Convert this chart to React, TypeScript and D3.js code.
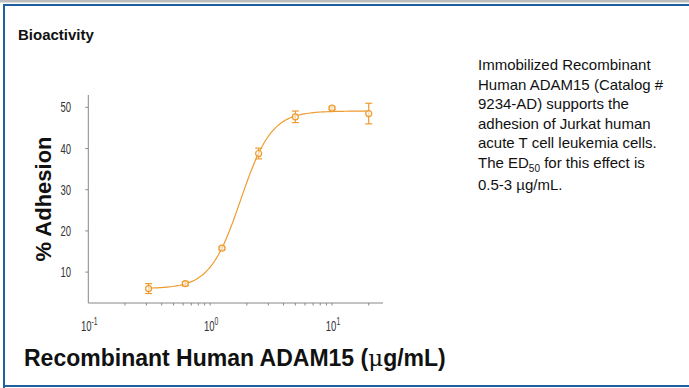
import React, { useEffect, useRef } from 'react';
import * as d3 from 'd3';

// concentrations (ug/mL) and measured adhesion
const conc = [0.3125, 0.625, 1.25, 2.5, 5, 10, 20];
const adhesion = [6.0, 7.2, 15.8, 38.8, 47.7, 49.8, 48.5];
const errs = [1.2, 0.5, 0.3, 1.3, 1.4, 0.3, 2.5];
// 4PL fit
const fitBottom = 6.0, fitTop = 49.1, fitEC50 = 1.78, fitHill = 3.44;
const yTicks = [10, 20, 30, 40, 50];
const xDecades = [-1, 0, 1];
const noteLines = [
  'Immobilized Recombinant',
  'Human ADAM15 (Catalog #',
  '9234-AD) supports the',
  'adhesion of Jurkat human',
  'acute T cell leukemia cells.',
];

const ORANGE = '#EE9B2F';
const SANS = '"Liberation Sans", Arial, sans-serif';

export default function App() {
  const ref = useRef<SVGSVGElement>(null);

  useEffect(() => {
    const svg = d3.select(ref.current);
    svg.selectAll('*').remove();
    const W = 689, H = 388;

    svg.append('rect').attr('width', W).attr('height', H).attr('fill', '#fff');
    // frame
    svg.append('rect').attr('x', 0).attr('y', 0).attr('width', W).attr('height', 2.5).attr('fill', '#bdbdbd');
    svg.append('rect').attr('x', 3).attr('y', 4).attr('width', W - 3).attr('height', 2).attr('fill', '#1f5fa0');
    svg.append('rect').attr('x', 3).attr('y', 4).attr('width', 2).attr('height', 384).attr('fill', '#1f5fa0');
    svg.append('rect').attr('x', 3).attr('y', 385).attr('width', W - 3).attr('height', 2).attr('fill', '#1f5fa0');

    svg.append('text').attr('x', 18).attr('y', 40)
      .attr('font-family', SANS).attr('font-weight', 'bold').attr('font-size', 15)
      .attr('fill', '#111').text('Bioactivity');

    const x = d3.scaleLog().domain([0.1, 26.2]).range([88.3, 383]);
    const y = d3.scaleLinear().domain([2.5, 53]).range([303, 95]);

    const g = svg.append('g');
    // axes
    g.append('line').attr('x1', x(0.1)).attr('x2', x(0.1)).attr('y1', y(53)).attr('y2', y(2.5))
      .attr('stroke', '#888').attr('stroke-width', 1);
    g.append('line').attr('x1', x(0.1)).attr('x2', x(26.2)).attr('y1', y(2.5)).attr('y2', y(2.5))
      .attr('stroke', '#888').attr('stroke-width', 1);

    // condensed tick labels: scale Liberation Sans horizontally
    const narrow = (px: number, py: number, anchor: string) =>
      g.append('text').attr('transform', `translate(${px},${py}) scale(0.68,1)`)
        .attr('text-anchor', anchor).attr('font-family', SANS).attr('font-size', 14).attr('fill', '#333');

    yTicks.forEach(v => {
      g.append('line').attr('x1', x(0.1) - 3).attr('x2', x(0.1)).attr('y1', y(v)).attr('y2', y(v))
        .attr('stroke', '#888');
      narrow(71, y(v) + 5, 'end').text(v);
    });

    const minor = x.ticks().filter(t => t > 0.1 && t <= 26.2);
    minor.forEach(t => {
      g.append('line').attr('x1', x(t)).attr('x2', x(t)).attr('y1', y(2.5)).attr('y2', y(2.5) + 2.5)
        .attr('stroke', '#888');
    });

    xDecades.forEach(p => {
      const t = narrow(x(Math.pow(10, p)) + 1, 331, 'middle');
      t.append('tspan').text('10');
      t.append('tspan').attr('dy', -6).attr('font-size', 10).text(String(p));
    });

    svg.append('text')
      .attr('transform', `translate(51,199) rotate(-90)`)
      .attr('text-anchor', 'middle').attr('font-family', SANS).attr('font-weight', 'bold')
      .attr('font-size', 22).attr('fill', '#111').text('% Adhesion');

    const xt = svg.append('text').attr('x', 24).attr('y', 366)
      .attr('font-family', SANS).attr('font-weight', 'bold').attr('font-size', 23).attr('fill', '#111');
    xt.append('tspan').text('Recombinant Human ADAM15 (');
    xt.append('tspan').attr('font-family', '"DejaVu Serif", serif').attr('font-weight', 'normal').text('μ');
    xt.append('tspan').text('g/mL)');

    // fitted curve
    const fit = (c: number) => fitBottom + (fitTop - fitBottom) / (1 + Math.pow(fitEC50 / c, fitHill));
    const xs = d3.range(0, 121).map(i => Math.exp(Math.log(conc[0]) + (Math.log(conc[conc.length - 1]) - Math.log(conc[0])) * i / 120));
    const line = d3.line<number>().x(c => x(c)).y(c => y(fit(c)));
    g.append('path').attr('d', line(xs)).attr('fill', 'none').attr('stroke', ORANGE).attr('stroke-width', 1.2);

    conc.forEach((c, i) => {
      const cx = x(c), v = adhesion[i], e = errs[i];
      g.append('line').attr('x1', cx).attr('x2', cx).attr('y1', y(v - e)).attr('y2', y(v + e))
        .attr('stroke', ORANGE).attr('stroke-width', 1.2);
      [v - e, v + e].forEach(b => {
        g.append('line').attr('x1', cx - 3.5).attr('x2', cx + 3.5).attr('y1', y(b)).attr('y2', y(b))
          .attr('stroke', ORANGE).attr('stroke-width', 1.2);
      });
      g.append('circle').attr('cx', cx).attr('cy', y(v)).attr('r', 3)
        .attr('fill', '#fff').attr('fill-opacity', 0.6).attr('stroke', ORANGE).attr('stroke-width', 1.2);
    });

    // note text
    const note = svg.append('g').attr('font-family', SANS).attr('font-size', 15).attr('fill', '#111');
    noteLines.forEach((s, i) => {
      note.append('text').attr('x', 478).attr('y', 70 + i * 19.6).text(s);
    });
    const ed = note.append('text').attr('x', 478).attr('y', 70 + 5 * 19.6);
    ed.append('tspan').text('The ED');
    ed.append('tspan').attr('dy', 4).attr('font-size', 10).text('50');
    ed.append('tspan').attr('dy', -4).text(' for this effect is');
    note.append('text').attr('x', 478).attr('y', 70 + 6 * 19.6 + 2).text('0.5-3 µg/mL.');
  }, []);

  return <svg ref={ref} width={689} height={388} style={{ position: 'absolute', left: 0, top: 0 }} />;
}
